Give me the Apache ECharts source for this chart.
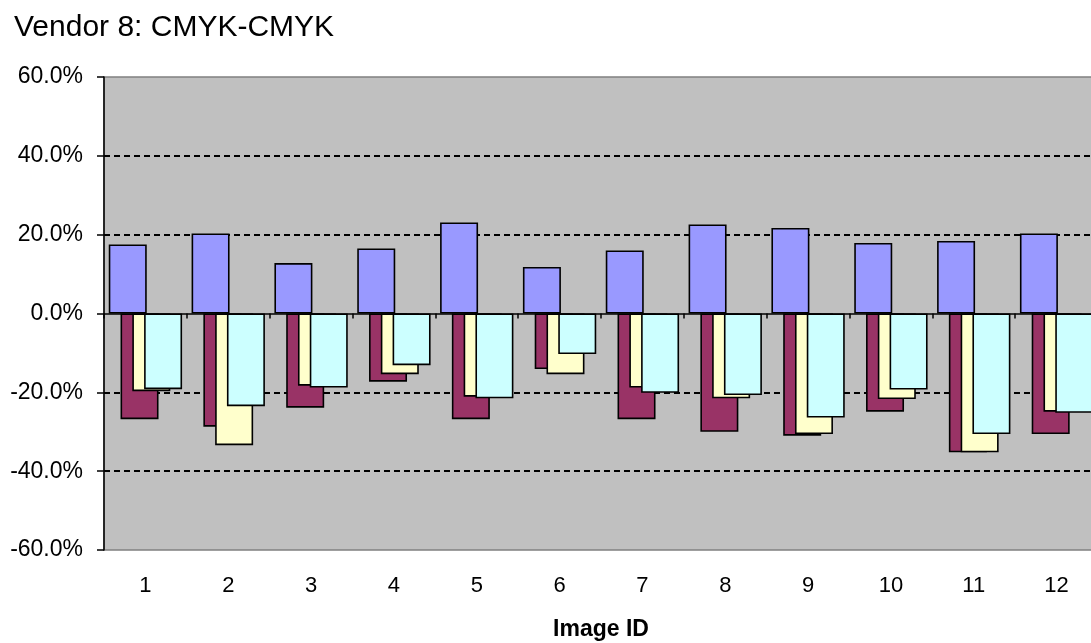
<!DOCTYPE html>
<html>
<head>
<meta charset="utf-8">
<title>Vendor 8: CMYK-CMYK</title>
<script src="https://cdn.jsdelivr.net/npm/echarts@6/dist/echarts.min.js"></script>
<style>
  html, body { margin: 0; padding: 0; background: #ffffff; }
  #chart { width: 1091px; height: 643px; }
</style>
</head>
<body>
<div id="chart"></div>
<script>
// Image IDs along the category axis
const categories = ['1', '2', '3', '4', '5', '6', '7', '8', '9', '10', '11', '12'];

// Per-image differences, in percent
const series1 = [17.5, 20.3, 12.8, 16.5, 23.1, 11.8, 16.0, 22.6, 21.7, 17.9, 18.4, 20.3];
const series2 = [-26.8, -28.7, -23.9, -17.3, -26.8, -14.1, -26.8, -30.0, -31.0, -24.9, -35.2, -30.6];
const series3 = [-19.7, -33.4, -18.3, -15.4, -21.1, -15.4, -18.8, -21.5, -30.6, -21.7, -35.2, -24.9];
const series4 = [-19.2, -23.5, -18.8, -13.1, -21.5, -10.3, -20.1, -20.7, -26.4, -19.3, -30.6, -25.2];

// Value axis ticks (percent)
const yTicks = { min: -60, max: 60, interval: 20 };

const FONT = '"Liberation Sans", Arial, sans-serif';

function barSeries(name, data, color) {
  return {
    name: name,
    type: 'bar',
    xAxisIndex: 0,
    data: data,
    barWidth: 38,
    barGap: '-69%',
    itemStyle: { color: color, borderColor: '#000000', borderWidth: 1.6 },
    emphasis: { disabled: true },
    animation: false
  };
}

const chart = echarts.init(document.getElementById('chart'), null, { renderer: 'canvas' });

chart.setOption({
  backgroundColor: '#ffffff',
  animation: false,
  title: {
    text: 'Vendor 8: CMYK-CMYK',
    left: 9,
    top: 8,
    textStyle: { fontFamily: FONT, fontSize: 30, fontWeight: 'normal', color: '#000000' }
  },
  grid: {
    left: 104,
    right: -7,
    top: 77,
    bottom: 93,
    outerBoundsMode: 'none',
    containLabel: false,
    show: true,
    backgroundColor: '#C0C0C0',
    borderColor: '#808080',
    borderWidth: 1.5
  },
  xAxis: [
    {
      // axis drawn through zero with boundary ticks
      type: 'category',
      data: categories,
      position: 'bottom',
      axisLine: { onZero: true, lineStyle: { color: '#000000', width: 1.5 } },
      axisTick: { show: true, length: 5, lineStyle: { color: '#000000', width: 1.5 } },
      axisLabel: { show: false },
      splitLine: { show: false }
    },
    {
      // category labels along the bottom edge of the plot
      type: 'category',
      data: categories,
      position: 'bottom',
      axisLine: { show: false, onZero: false },
      axisTick: { show: false },
      axisLabel: { show: true, margin: 25, fontFamily: FONT, fontSize: 22, color: '#000000' },
      splitLine: { show: false },
      name: 'Image ID',
      nameLocation: 'middle',
      nameGap: 68,
      nameTextStyle: { fontFamily: FONT, fontSize: 23, fontWeight: 'bold', color: '#000000' }
    }
  ],
  yAxis: {
    type: 'value',
    min: yTicks.min,
    max: yTicks.max,
    interval: yTicks.interval,
    axisLine: { show: true, lineStyle: { color: '#000000', width: 1.5 } },
    axisTick: { show: true, length: 7, lineStyle: { color: '#000000', width: 1.5 } },
    axisLabel: {
      margin: 21,
      fontFamily: FONT,
      fontSize: 23,
      color: '#000000',
      formatter: function (v) { return v.toFixed(1) + '%'; }
    },
    splitLine: {
      show: true,
      lineStyle: {
        // no dashed line at the edges or at zero
        color: ['rgba(0,0,0,0)', '#000000', '#000000', 'rgba(0,0,0,0)', '#000000', '#000000', 'rgba(0,0,0,0)'],
        type: [6, 4],
        width: 1.8
      }
    }
  },
  series: [
    barSeries('Series1', series1, '#9999FF'),
    barSeries('Series2', series2, '#993366'),
    barSeries('Series3', series3, '#FFFFCC'),
    barSeries('Series4', series4, '#CCFFFF')
  ]
});
</script>
</body>
</html>
